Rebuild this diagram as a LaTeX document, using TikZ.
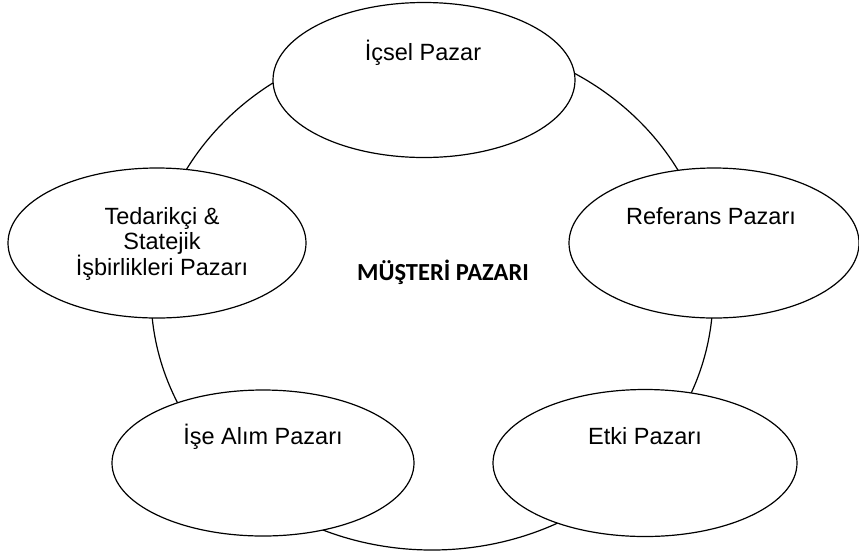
\documentclass[tikz,border=0pt]{standalone}
\usepackage{fontspec}
\setmainfont{Liberation Sans}
\newfontfamily\boldlabel{Carlito}
\usetikzlibrary{shapes.geometric}
\begin{document}
\begin{tikzpicture}[x=1pt,y=-1pt,
  market/.style={ellipse,draw=black,fill=white,line width=1.2pt,inner sep=0pt},
  ring/.style={ellipse,draw=black,line width=1.2pt,inner sep=0pt,minimum width=562pt,minimum height=512pt},
  lbl/.style={font=\fontsize{23.5}{25}\selectfont,inner sep=0pt,align=center},
  core/.style={font=\boldlabel\bfseries\fontsize{24.5}{26}\selectfont,inner sep=0pt}]
\useasboundingbox (0,0) rectangle (859,558);
\node[ring] (musteri) at (432,294) {};
\node[market,minimum width=302pt,minimum height=155pt] (icsel) at (424,80) {};
\node[market,minimum width=290pt,minimum height=150pt] (referans) at (714,243) {};
\node[market,minimum width=304pt,minimum height=147pt] (etki) at (645,463) {};
\node[market,minimum width=302pt,minimum height=146pt] (ise) at (263,463) {};
\node[market,minimum width=298pt,minimum height=150pt] (tedarik) at (157,243) {};
\node[lbl,anchor=base] (icselt) at (423,60) {İçsel Pazar};
\node[lbl,anchor=base] (referanst) at (711,224) {Referans Pazarı};
\node[lbl,anchor=base] (etkit) at (645,444) {Etki Pazarı};
\node[lbl,anchor=base] (iset) at (263,444) {İşe Alım Pazarı};
\node[lbl,anchor=center] (tedarikt) at (162,244) {Tedarikçi \&\\Statejik\\İşbirlikleri Pazarı};
\node[core,anchor=base] (musterit) at (443,280) {MÜŞTERİ PAZARI};
\end{tikzpicture}
\end{document}
